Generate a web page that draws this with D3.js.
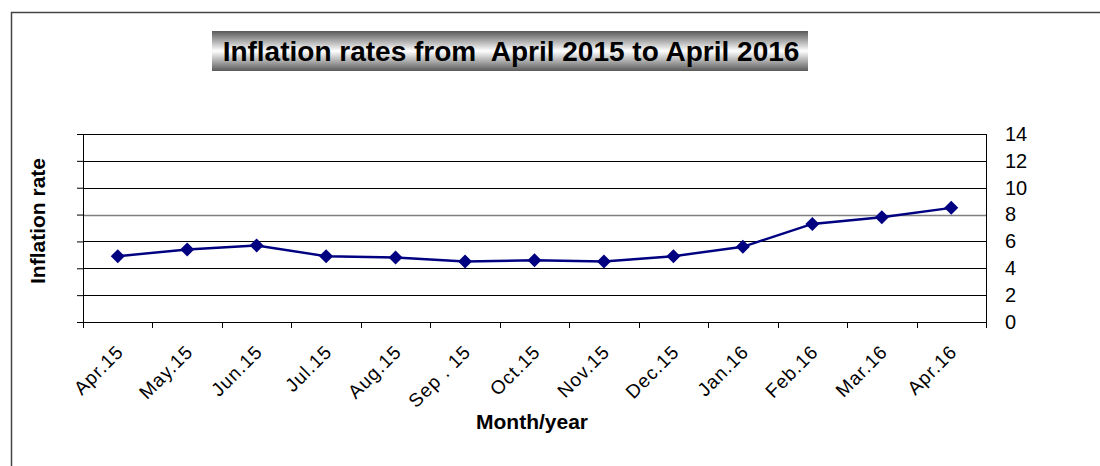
<!DOCTYPE html>
<html>
<head>
<meta charset="utf-8">
<script src="https://cdn.jsdelivr.net/npm/d3@7"></script>
<style>
  body { margin: 0; background: #fff; }
  text { font-family: "Liberation Sans", Arial, sans-serif; }
</style>
</head>
<body>
<div id="chart"></div>
<script>
// data
var months = ["Apr.15", "May.15", "Jun.15", "Jul.15", "Aug.15", "Sep . 15", "Oct.15",
              "Nov.15", "Dec.15", "Jan.16", "Feb.16", "Mar.16", "Apr.16"];
var rates = [4.9, 5.4, 5.7, 4.9, 4.8, 4.5, 4.6, 4.5, 4.9, 5.6, 7.3, 7.8, 8.5];
var yTicks = [0, 2, 4, 6, 8, 10, 12, 14];

var W = 1100, H = 466;
var margin = { top: 134, right: 114, bottom: 144, left: 83 },
    width = W - margin.left - margin.right,
    height = H - margin.top - margin.bottom;

var svg = d3.select("#chart").append("svg")
    .attr("width", W)
    .attr("height", H);

// outer frame (only top and left edges visible in the original)
svg.append("path")
    .attr("d", "M11.5," + H + "V12.5H" + W)
    .attr("fill", "none")
    .attr("stroke", "#444")
    .attr("stroke-width", 1.5);

// title with metallic gradient box
var grad = svg.append("defs").append("linearGradient")
    .attr("id", "titleGrad")
    .attr("x1", 0).attr("y1", 0).attr("x2", 0).attr("y2", 1);
grad.append("stop").attr("offset", "0%").attr("stop-color", "#5a5a5a");
grad.append("stop").attr("offset", "50%").attr("stop-color", "#ffffff");
grad.append("stop").attr("offset", "100%").attr("stop-color", "#5a5a5a");

svg.append("rect")
    .attr("x", 212).attr("y", 31)
    .attr("width", 596).attr("height", 40)
    .attr("fill", "url(#titleGrad)");

svg.append("text")
    .attr("x", 511).attr("y", 61)
    .attr("text-anchor", "middle")
    .attr("xml:space", "preserve")
    .style("font-size", "28px")
    .style("font-weight", "bold")
    .text("Inflation rates from  April 2015 to April 2016");

var g = svg.append("g")
    .attr("transform", "translate(" + margin.left + "," + margin.top + ")");

var x = d3.scaleBand().domain(months).range([0, width]);
var y = d3.scaleLinear().domain([0, 14]).range([height, 0]);

// gridlines (the 8 line looks grey/heavier in the original)
g.selectAll(".grid")
    .data(yTicks.slice(1))
    .enter().append("line")
    .attr("x1", 0).attr("x2", width)
    .attr("y1", function(d) { return Math.round(y(d)) + 0.5; })
    .attr("y2", function(d) { return Math.round(y(d)) + 0.5; })
    .attr("stroke", function(d) { return d === 8 ? "#808080" : "#000"; })
    .attr("stroke-width", function(d) { return d === 8 ? 1.6 : 1; });

// right border of plot
g.append("line")
    .attr("x1", width + 0.5).attr("x2", width + 0.5)
    .attr("y1", 0).attr("y2", height)
    .attr("stroke", "#000");

// left axis: ticks only, no labels
var yAxisL = g.append("g")
    .call(d3.axisLeft(y).tickValues(yTicks).tickSize(6).tickFormat(""));
yAxisL.select(".domain").attr("stroke", "#000");
yAxisL.selectAll(".tick line").attr("stroke", "#000");

// right axis labels
var yAxisR = g.append("g")
    .attr("transform", "translate(" + width + ",0)")
    .call(d3.axisRight(y).tickValues(yTicks).tickSize(0).tickPadding(19));
yAxisR.select(".domain").remove();
yAxisR.selectAll("text")
    .style("font-size", "20px")
    .style("font-family", "'Liberation Sans', Arial, sans-serif")
    .attr("fill", "#000");

// x axis with band-edge ticks (axis ticks already sit at band centres)
var xAxis = g.append("g")
    .attr("transform", "translate(0," + height + ")")
    .call(d3.axisBottom(x).tickSize(0).tickPadding(0));
xAxis.select(".domain").attr("stroke", "#000");
xAxis.selectAll("text")
    .style("font-size", "19px")
    .style("letter-spacing", "1px")
    .style("font-family", "'Liberation Sans', Arial, sans-serif")
    .attr("fill", "#000")
    .attr("text-anchor", "end")
    .attr("dy", null)
    .attr("transform", "translate(7,31) rotate(-45)");

g.selectAll(".xtick")
    .data(months.concat([null]))
    .enter().append("line")
    .attr("x1", function(d, i) { return Math.round(i * x.step()) + 0.5; })
    .attr("x2", function(d, i) { return Math.round(i * x.step()) + 0.5; })
    .attr("y1", height).attr("y2", height + 6)
    .attr("stroke", "#000");

// series line and diamond markers
var line = d3.line()
    .x(function(d, i) { return x(months[i]) + x.bandwidth() / 2; })
    .y(function(d) { return y(d); });

g.append("path")
    .datum(rates)
    .attr("fill", "none")
    .attr("stroke", "#000080")
    .attr("stroke-width", 2.4)
    .attr("d", line);

g.selectAll(".pt")
    .data(rates)
    .enter().append("path")
    .attr("transform", function(d, i) {
        return "translate(" + (x(months[i]) + x.bandwidth() / 2) + "," + y(d) + ")";
    })
    .attr("d", "M0,-7L7,0L0,7L-7,0Z")
    .attr("fill", "#000080");

// axis titles
svg.append("text")
    .attr("transform", "translate(45," + (margin.top + height / 2 - 7) + ") rotate(-90)")
    .attr("text-anchor", "middle")
    .style("font-size", "21px")
    .style("font-weight", "bold")
    .text("Inflation rate");

svg.append("text")
    .attr("x", 532).attr("y", 429)
    .attr("text-anchor", "middle")
    .style("font-size", "21px")
    .style("font-weight", "bold")
    .text("Month/year");
</script>
</body>
</html>
